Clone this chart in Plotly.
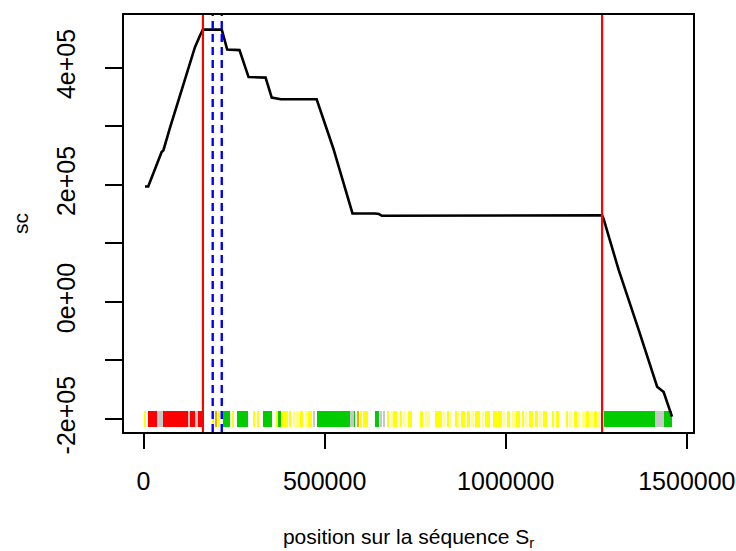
import plotly.graph_objects as go

# ---- data (positions in bp, score sc) ----
pos_k = [4, 13, 50, 55, 73, 100, 142, 156, 164, 216, 231, 265, 290, 337, 354, 379,
         478, 524, 577, 639, 650, 658, 1266, 1270, 1312, 1367, 1404, 1418, 1436, 1452, 1459]
sc_e5 = [1.97, 1.97, 2.56, 2.59, 2.97, 3.50, 4.35, 4.55, 4.65, 4.65, 4.31, 4.30, 3.84, 3.83,
         3.49, 3.46, 3.46, 2.62, 1.51, 1.51, 1.50, 1.47, 1.48, 1.42, 0.54, -0.48, -1.19,
         -1.45, -1.54, -1.81, -1.96]
positions = [p * 1000 for p in pos_k]
sc = [v * 1e5 for v in sc_e5]

red_lines = [164000, 1266000]
blue_lines = [191000, 216000]

x_ticks = [0, 500000, 1000000, 1500000]
x_labels = ["0", "500000", "1000000", "1500000"]
y_ticks = [-2e5, 0, 2e5, 4e5]
y_labels = ["-2e+05", "0e+00", "2e+05", "4e+05"]

# colour strip segments (kbp) and class
strip_start = [1, 12, 38, 53, 124, 128, 142, 151,
               191, 200, 206, 219, 246, 257, 303, 313, 331, 368, 372,
               383, 402, 413, 423, 432, 446, 455, 469, 478, 570, 580, 589,
               598, 607, 639, 653, 662, 672, 684, 690, 708, 718, 729, 762, 778,
               805, 827, 838, 847, 860, 869, 877, 894, 903, 915, 934, 943, 966,
               978, 993, 1003, 1017, 1028, 1044, 1053, 1063, 1080, 1093, 1104,
               1128, 1138, 1167, 1176, 1188, 1199, 1210, 1222, 1234, 1244, 1255,
               1270, 1413, 1436]
strip_end = [7, 38, 53, 124, 128, 142, 151, 161,
             195, 203, 211, 239, 251, 289, 308, 320, 356, 372, 380,
             398, 407, 418, 428, 441, 451, 465, 474, 570, 580, 584, 595,
             603, 621, 649, 658, 667, 678, 688, 701, 714, 722, 741, 771, 791,
             824, 833, 842, 851, 866, 874, 888, 900, 912, 929, 940, 957, 975,
             990, 999, 1012, 1025, 1040, 1050, 1060, 1075, 1090, 1100, 1115,
             1133, 1146, 1172, 1184, 1196, 1206, 1218, 1230, 1240, 1252, 1260,
             1413, 1436, 1459]
strip_class = ["y", "r", "gris", "r", "gris", "r", "gris", "r",
               "y", "o", "y", "g", "y", "g", "y", "y", "g", "y", "g",
               "y", "y", "yl", "yl", "y", "yl", "y", "gris", "g", "gris", "g", "o",
               "y", "y", "g", "gris", "gris", "y", "yl", "y", "y", "yl", "y", "y", "yl",
               "y", "yl", "y", "yl", "y", "yl", "y", "y", "yl", "y", "yl", "y", "y",
               "y", "yl", "y", "yl", "y", "y", "yl", "y", "y", "yl", "y",
               "y", "y", "y", "yl", "y", "yl", "yl", "y", "yl", "y", "yl",
               "g", "gris", "g"]

strip_level = -2e5
strip_half = 1.37e4

class_colors = {"r": "#FF0000", "g": "#00CC00", "y": "#FFFF00", "yl": "#FFFF88",
                "gris": "#C8C8C8", "o": "#FFA500"}

fig = go.Figure()

for cls, col in class_colors.items():
    idx = [i for i, c in enumerate(strip_class) if c == cls]
    if not idx:
        continue
    xs = [(strip_start[i] + strip_end[i]) * 500 for i in idx]
    ws = [(strip_end[i] - strip_start[i]) * 1000 for i in idx]
    fig.add_trace(go.Bar(
        x=xs, width=ws, y=[2 * strip_half] * len(idx),
        base=[strip_level - strip_half] * len(idx),
        marker=dict(color=col, line=dict(width=0)),
        hoverinfo="skip", showlegend=False))

fig.add_trace(go.Scatter(x=positions, y=sc, mode="lines",
                         line=dict(color="black", width=2.6), showlegend=False))

for xv in red_lines:
    fig.add_vline(x=xv, line=dict(color="#FF0000", width=2.2))
for xv in blue_lines:
    fig.add_vline(x=xv, line=dict(color="#0000FF", width=2.4, dash="8px,5px"))

tick_font = dict(family="Liberation Sans, Arial, sans-serif", size=25, color="black")
title_font = dict(family="Liberation Sans, Arial, sans-serif", size=21, color="black")

fig.update_layout(
    width=736, height=551,
    margin=dict(l=124, r=43, t=15, b=119),
    paper_bgcolor="white", plot_bgcolor="white",
    barmode="overlay", bargap=0,
    font=tick_font, showlegend=False,
    xaxis=dict(range=[-53870, 1517000], showgrid=False, zeroline=False, automargin=False,
               showline=True, mirror=True, linecolor="black", linewidth=2,
               ticks="outside", ticklen=15, tickwidth=2, tickcolor="black",
               tickvals=x_ticks, ticktext=x_labels, tickfont=tick_font,
               ticklabelstandoff=11,
               title=dict(text="position sur la séquence S<sub>r</sub>",
                          font=title_font, standoff=40)),
    yaxis=dict(range=[-2.224e5, 4.90e5], showgrid=False, zeroline=False, automargin=False,
               showline=True, mirror=True, linecolor="black", linewidth=2,
               ticks="outside", ticklen=17, tickwidth=2, tickcolor="black",
               tickvals=y_ticks, ticktext=y_labels, tickfont=tick_font,
               minor=dict(dtick=1e5, tick0=0, ticks="outside", ticklen=17,
                          tickwidth=2, tickcolor="black", showgrid=False),
               tickangle=-90, ticklabelstandoff=20,
               title=dict(text="sc", font=title_font, standoff=18)),
)

fig.write_html("out.html", config={"displayModeBar": False},
               post_script="document.body.style.margin='0px';document.body.style.overflow='hidden';")
